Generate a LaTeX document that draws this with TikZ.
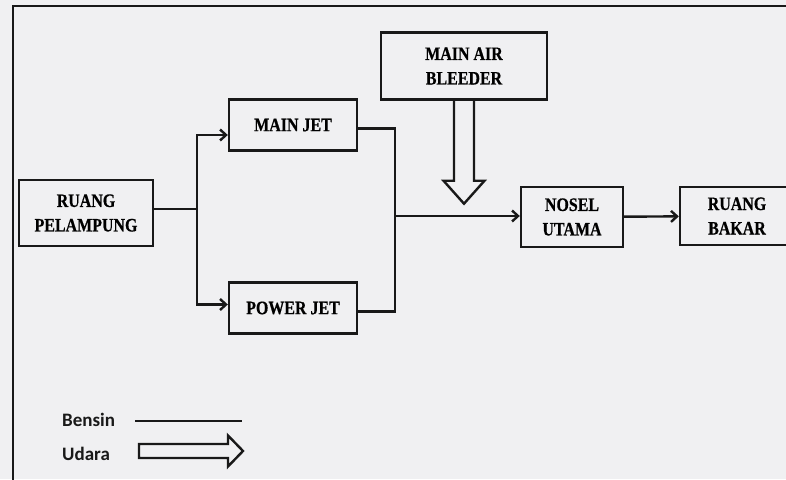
\documentclass[tikz,border=0pt]{standalone}
\usepackage{fontspec}
\setmainfont{Liberation Serif}
\newfontfamily\blokfont[FakeStretch=0.84, BoldFeatures={FakeBold=0.6}]{Liberation Serif}
\newfontfamily\ketfont{Carlito}
\usetikzlibrary{arrows.meta}
\definecolor{kertas}{RGB}{240, 240, 242}
\definecolor{tinta}{RGB}{25, 25, 25}

\begin{document}
\begin{tikzpicture}[x=1pt, y=-1pt,
	blok/.style={draw=tinta, line width=2.4pt, align=center, inner sep=0pt,
		font=\blokfont\bfseries\fontsize{19}{24.5}\selectfont},
	aliran/.style={draw=tinta, line width=2.4pt},
	panah/.style={aliran, -{Straight Barb[length=6pt, width=11pt]}},
	ket/.style={font=\ketfont\bfseries\fontsize{19}{22}\selectfont, text=tinta, inner sep=0pt, anchor=base west}
	]
	\useasboundingbox (0,0) rectangle (786,479);
	\clip (0,0) rectangle (786,479);
	\fill[kertas] (0,0) rectangle (786,479);
	\draw[aliran] (13,485) -- (13,6) -- (792,6);
	% blok
	\foreach \nama/\px/\py/\lebar/\tinggi/\teks in {
		pelampung/86/213/134/66/{RUANG\\PELAMPUNG},
		mainjet/293/125/128/51/{MAIN JET},
		powerjet/293/308/128/51/{POWER JET},
		bleeder/464/66/166/67/{MAIN AIR\\BLEEDER},
		nosel/572/217/102/60/{NOSEL\\UTAMA},
		bakar/737/216/114/58/{RUANG\\BAKAR}} {
		\node[blok, minimum width=\lebar pt, minimum height=\tinggi pt] (\nama) at (\px,\py) {\teks};
	}
	% bensin
	\coordinate (cabang) at (197,209);
	\coordinate (gabung) at (395,216);
	\draw[aliran] (pelampung.east |- cabang) -- (cabang);
	\draw[panah] (cabang) |- ([yshift=-10pt]mainjet.west);
	\draw[panah] (cabang) |- ([yshift=3.5pt]powerjet.west);
	\draw[aliran] ([yshift=-3.5pt]mainjet.east) -| (gabung) |- ([yshift=-3.5pt]powerjet.east);
	\draw[panah] (gabung) -- (gabung -| nosel.west);
	\draw[panah] (nosel) -- (bakar);
	% udara
	\draw[aliran, line join=miter] ([xshift=-10pt]bleeder.south) -- ++(0,80) -- ++(-10.5,0)
		-- ++(20.5,23) -- ++(20.5,-23) -- ++(-10.5,0) -- ++(0,-80);
	% keterangan
	\node[ket] (bensin) at (62,426) {Bensin};
	\node[ket] (udara) at (62,460) {Udara};
	\draw[aliran] (135,421) -- (242,421);
	\draw[aliran, line join=miter] (139,444) -- (228,444) -- (228,435.5) -- (243,451)
		-- (228,466.5) -- (228,458) -- (139,458) -- cycle;
\end{tikzpicture}
\end{document}
